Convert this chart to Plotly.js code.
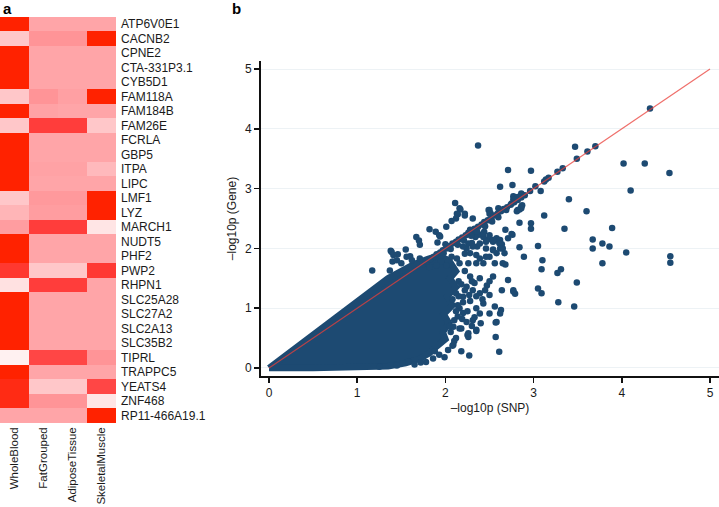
<!DOCTYPE html>
<html lang="en">
<head>
    <meta charset="UTF-8">
    <script src="https://cdn.plot.ly/plotly-3.0.1.min.js"></script>
    <style>
        html, body, #plot {
            height: 100%;
            width: 100%;
            margin: 0;
            padding: 0;
            overflow: hidden;
            background: #ffffff;
        }
    </style>
</head>
<body>
<div id="plot"></div>
<script>
    // ---- panel a: heatmap ----
    const tissues = ['WholeBlood', 'FatGrouped', 'AdiposeTissue', 'SkeletalMuscle'];
    const genes = ['ATP6V0E1', 'CACNB2', 'CPNE2', 'CTA-331P3.1', 'CYB5D1', 'FAM118A', 'FAM184B',
        'FAM26E', 'FCRLA', 'GBP5', 'ITPA', 'LIPC', 'LMF1', 'LYZ', 'MARCH1', 'NUDT5', 'PHF2', 'PWP2',
        'RHPN1', 'SLC25A28', 'SLC27A2', 'SLC2A13', 'SLC35B2', 'TIPRL', 'TRAPPC5', 'YEATS4', 'ZNF468',
        'RP11-466A19.1'];
    // one row per gene, columns in tissue order
    const heat = [
        [1.00, 0.45, 0.45, 0.45],
        [0.30, 0.55, 0.55, 1.00],
        [1.00, 0.45, 0.45, 0.45],
        [1.00, 0.45, 0.45, 0.45],
        [1.00, 0.45, 0.45, 0.45],
        [0.30, 0.55, 0.48, 1.00],
        [1.00, 0.47, 0.45, 0.45],
        [0.30, 0.85, 0.85, 0.30],
        [1.00, 0.45, 0.45, 0.45],
        [1.00, 0.45, 0.45, 0.45],
        [1.00, 0.47, 0.47, 0.36],
        [1.00, 0.45, 0.45, 0.45],
        [0.30, 0.52, 0.52, 1.00],
        [0.38, 0.50, 0.50, 1.00],
        [0.50, 0.85, 0.85, 0.12],
        [1.00, 0.45, 0.45, 0.45],
        [1.00, 0.45, 0.45, 0.45],
        [0.88, 0.30, 0.30, 0.87],
        [0.15, 0.85, 0.85, 0.45],
        [1.00, 0.45, 0.45, 0.45],
        [1.00, 0.45, 0.45, 0.45],
        [1.00, 0.45, 0.45, 0.45],
        [1.00, 0.45, 0.45, 0.45],
        [0.03, 0.82, 0.82, 0.55],
        [1.00, 0.45, 0.45, 0.45],
        [0.95, 0.30, 0.30, 0.82],
        [0.95, 0.55, 0.55, 0.12],
        [0.45, 0.45, 0.45, 1.00]
    ];

    // ---- panel b: -log10p SNP vs gene ----
    // solid bulk of the cloud (outline of the overlapping points)
    const cloudSnp = [0, 0.4, 0.8, 1.0, 1.2, 1.35, 1.5, 1.65, 1.8, 1.92, 2.04, 2.12, 2.05, 2.12, 2.02,
        2.08, 1.98, 2.04, 1.97, 2.0, 1.9, 1.82, 1.7, 1.55, 1.35, 1.0, 0.5, 0];
    const cloudGene = [0, 0.45, 0.89, 1.1, 1.33, 1.5, 1.62, 1.74, 1.82, 1.88, 1.8, 1.62, 1.5, 1.35, 1.2,
        1.05, 0.9, 0.75, 0.6, 0.48, 0.36, 0.25, 0.15, 0.08, 0.03, 0.01, 0, 0];

    // single points outside the bulk
    const snp = [
        4.32, 2.37, 3.47, 3.70, 3.61, 3.49, 4.02, 4.26, 4.54, 3.33, 3.27, 3.17, 3.14, 3.12, 3.02,
        2.96, 3.08, 2.97, 2.71, 2.76, 2.62, 3.40, 4.10, 3.60, 3.12, 3.35, 3.89, 2.97, 2.97, 2.84,
        3.05, 2.89, 3.10, 3.09, 3.67, 3.67, 3.78, 3.86, 4.05, 4.55, 4.55, 3.78, 3.31, 3.27, 3.49,
        3.05, 3.09, 3.28, 3.46, 2.84, 2.68, 2.76, 2.71, 2.62, 2.64, 2.65, 2.68, 2.71, 2.77, 2.79,
        2.63, 2.62, 2.57, 2.57, 2.61, 2.27, 2.08, 1.99, 2.35, 2.25, 2.26, 2.18, 1.17, 1.40, 1.38,
        2.86, 2.84, 2.81, 2.69, 2.77, 2.77, 2.86, 2.82, 2.78, 2.75, 2.86, 2.82, 2.60, 2.50, 2.50, 2.87,
        2.16, 2.14, 2.11, 2.17, 2.13, 2.22, 2.31, 2.07, 2.12, 2.22, 2.01, 1.82, 1.89, 1.93, 1.94,
        1.67, 1.70, 1.71, 1.91, 2.00, 2.03, 1.39, 1.46, 1.55, 1.60, 2.49, 2.51, 2.51, 2.75, 2.44,
        2.38, 2.34, 2.30, 2.43, 2.48, 2.54, 2.58, 2.61, 2.65, 2.54, 2.46, 2.36, 2.30, 2.24, 2.22,
        2.35, 2.50, 2.58, 2.28, 2.35, 2.43, 2.50, 2.58, 2.54, 2.62, 2.46, 2.39, 2.31, 2.26, 2.20,
        2.28, 2.39, 2.46, 2.54, 2.62, 2.67, 2.56, 2.43, 2.35, 2.26, 2.16, 2.13, 2.07, 2.01, 1.95,
        1.90, 1.82, 1.75, 1.71, 1.62, 1.56, 1.50, 1.45, 1.41, 1.37,
        2.28, 2.39, 2.54, 2.77, 2.64, 2.50, 2.39, 2.31, 2.24, 2.20, 2.12, 2.43, 2.56, 2.50, 2.39,
        2.31, 2.24, 2.16, 2.09, 2.58, 2.35, 2.26, 2.09, 1.86, 2.14, 2.16, 2.15, 2.22, 2.33, 2.47,
        2.28, 2.35, 2.20, 2.30, 2.12, 2.18,
        1.74, 1.79, 1.83, 1.87, 1.90, 1.94, 1.97, 2.01, 2.05, 2.08, 2.12, 2.15, 2.19, 2.23, 2.26,
        2.30, 2.33, 2.37, 2.41, 2.44, 2.48, 2.52, 2.55, 2.59, 2.63, 2.66, 2.70, 2.74, 2.78, 2.82,
        2.86, 2.90, 1.98, 2.06, 2.14, 2.21, 2.29, 2.36, 2.45, 2.53, 2.60,
        2.15, 2.12, 2.10, 2.06, 2.03, 1.93, 1.78, 1.65, 2.20, 2.25, 2.30, 2.35, 2.40, 2.45, 2.50,
        2.18, 2.22, 2.08, 2.14, 2.05, 1.88, 2.10, 2.19, 2.27, 2.33, 2.42, 1.72, 1.58, 1.45, 1.25
    ];
    const gene = [
        4.34, 3.72, 3.70, 3.71, 3.62, 3.50, 3.42, 3.42, 3.26, 3.34, 3.28, 3.18, 3.15, 3.12, 3.04,
        2.96, 2.96, 3.30, 3.31, 3.06, 3.03, 2.82, 2.97, 2.62, 2.55, 2.33, 2.34, 2.42, 2.33, 2.43,
        2.04, 1.86, 1.80, 1.65, 2.15, 2.00, 2.08, 2.03, 1.93, 1.87, 1.76, 1.75, 1.65, 1.59, 1.43,
        1.33, 1.25, 1.10, 1.03, 2.02, 2.31, 2.23, 2.17, 2.14, 2.07, 1.75, 1.73, 1.47, 1.30, 1.24,
        0.97, 0.91, 0.76, 0.52, 0.27, 0.21, 0.37, 0.18, 0.62, 0.55, 0.52, 0.66, 1.63, 1.78, 1.96,
        2.70, 2.65, 2.62, 2.64, 2.87, 2.82, 2.92, 2.86, 2.81, 2.75, 2.67, 2.64, 2.67, 2.64, 2.58, 2.72,
        2.67, 2.57, 2.76, 2.65, 2.58, 2.58, 2.50, 2.46, 2.50, 2.55, 2.36, 2.32, 2.28, 2.22, 2.20,
        2.19, 2.13, 2.06, 2.10, 2.07, 2.01, 1.94, 1.90, 1.98, 1.87, 2.64, 2.59, 2.47, 2.24, 2.28,
        2.23, 2.19, 2.25, 2.19, 2.15, 2.11, 2.15, 2.09, 2.00, 1.98, 2.00, 2.03, 2.09, 2.00, 1.91,
        1.89, 1.86, 1.92, 2.31, 2.28, 2.25, 2.22, 2.17, 2.14, 2.08, 2.11, 2.08, 2.03, 2.08, 2.03,
        1.92, 1.83, 1.86, 1.97, 2.00, 1.92, 1.75, 1.75, 1.75, 1.75, 1.75, 1.83, 1.86, 1.72, 1.78,
        1.72, 1.69, 1.75, 1.83, 1.80, 1.86, 1.75, 1.80, 1.89, 1.63,
        1.53, 1.50, 1.53, 1.28, 1.30, 1.22, 1.25, 1.30, 1.36, 1.19, 1.25, 1.08, 1.03, 0.91, 0.91,
        0.80, 0.77, 0.66, 0.69, 0.77, 0.64, 0.58, 0.39, 0.16, 0.86, 1.00, 1.45, 1.62, 1.42, 1.38,
        1.12, 1.00, 0.92, 0.70, 0.50, 0.28,
        1.73, 1.78, 1.82, 1.86, 1.90, 1.93, 1.97, 2.00, 2.04, 2.08, 2.11, 2.15, 2.18, 2.22, 2.26,
        2.29, 2.33, 2.36, 2.40, 2.44, 2.47, 2.51, 2.55, 2.58, 2.62, 2.66, 2.69, 2.73, 2.77, 2.81,
        2.85, 2.89, 1.92, 1.99, 2.06, 2.13, 2.21, 2.28, 2.37, 2.45, 2.52,
        1.20, 0.95, 0.80, 0.60, 0.30, 0.22, 0.10, 0.06, 1.10, 0.95, 1.45, 1.20, 0.75, 1.30, 1.45,
        1.40, 1.30, 1.15, 1.05, 0.70, 0.28, 0.45, 0.82, 1.22, 0.85, 1.15, 0.09, 0.11, 0.04, 0.02
    ];

    // identity line
    const lineX = [0, 5];
    const lineY = [0, 5];

    function makePlot() {
        const font = 'Liberation Sans, Arial, sans-serif';
        const dotColor = '#1d4a72';

        const heatTrace = {
            type: 'heatmap',
            x: tissues,
            y: genes,
            z: heat,
            xaxis: 'x',
            yaxis: 'y',
            zmin: 0,
            zmax: 1,
            showscale: false,
            hoverinfo: 'skip',
            colorscale: [
                [0, '#fff5f5'],
                [0.15, '#ffe1e1'],
                [0.3, '#ffc7c9'],
                [0.45, '#ffa5a8'],
                [0.55, '#ff9497'],
                [0.7, '#ff6c6c'],
                [0.85, '#ff3d3b'],
                [1, '#ff2200']
            ]
        };

        const cloudTrace = {
            type: 'scatter',
            mode: 'lines',
            x: cloudSnp,
            y: cloudGene,
            xaxis: 'x2',
            yaxis: 'y2',
            fill: 'toself',
            fillcolor: dotColor,
            line: {color: dotColor, width: 6.5},
            hoverinfo: 'skip',
            showlegend: false
        };

        const pointTrace = {
            type: 'scatter',
            mode: 'markers',
            x: snp,
            y: gene,
            xaxis: 'x2',
            yaxis: 'y2',
            marker: {color: dotColor, size: 6.5, line: {width: 0}},
            showlegend: false
        };

        const diagTrace = {
            type: 'scatter',
            mode: 'lines',
            x: lineX,
            y: lineY,
            xaxis: 'x2',
            yaxis: 'y2',
            line: {color: '#ea3f3a', width: 1.2},
            opacity: 0.75,
            hoverinfo: 'skip',
            showlegend: false
        };

        const tickFont = {family: font, size: 12, color: '#1a1a1a'};

        const layout = {
            width: 719,
            height: 507,
            margin: {l: 0, r: 0, t: 0, b: 0, pad: 0},
            paper_bgcolor: '#ffffff',
            plot_bgcolor: '#ffffff',
            showlegend: false,
            font: {family: font, size: 12, color: '#1a1a1a'},
            xaxis: {
                domain: [0, 0.1613],
                anchor: 'y',
                tickangle: -90,
                ticks: '',
                ticklabelstandoff: 1,
                showgrid: false,
                zeroline: false,
                showline: false,
                tickfont: {family: font, size: 11.5, color: '#1a1a1a'},
                fixedrange: true
            },
            yaxis: {
                domain: [0.1657, 0.9665],
                anchor: 'x',
                side: 'right',
                autorange: 'reversed',
                ticks: '',
                ticklabelstandoff: 4,
                showgrid: false,
                zeroline: false,
                showline: false,
                tickfont: tickFont,
                fixedrange: true
            },
            xaxis2: {
                domain: [0.363, 1],
                anchor: 'y2',
                range: [-0.091, 5.102],
                tickvals: [0, 1, 2, 3, 4, 5],
                ticks: 'outside',
                ticklen: 5,
                tickwidth: 1.5,
                tickcolor: '#111111',
                showline: true,
                linewidth: 2,
                linecolor: '#111111',
                showgrid: false,
                zeroline: false,
                tickfont: tickFont,
                title: {text: '–log10p (SNP)', font: {family: font, size: 12, color: '#1a1a1a'}, standoff: 4}
            },
            yaxis2: {
                domain: [0.2584, 0.8797],
                anchor: 'x2',
                range: [-0.134, 5.134],
                tickvals: [0, 1, 2, 3, 4, 5],
                ticks: 'outside',
                ticklen: 5,
                tickwidth: 1.5,
                tickcolor: '#111111',
                showline: true,
                linewidth: 2,
                linecolor: '#111111',
                showgrid: true,
                gridcolor: '#edf2f5',
                gridwidth: 1,
                zeroline: false,
                tickfont: tickFont,
                title: {text: '–log10p (Gene)', font: {family: font, size: 12, color: '#1a1a1a'}, standoff: 6}
            },
            annotations: [
                {
                    text: '<b>a</b>', xref: 'paper', yref: 'paper', x: 0.002, y: 1.004,
                    xanchor: 'left', yanchor: 'top', showarrow: false,
                    font: {family: font, size: 15, color: '#000000'}
                },
                {
                    text: '<b>b</b>', xref: 'paper', yref: 'paper', x: 0.32, y: 1.004,
                    xanchor: 'left', yanchor: 'top', showarrow: false,
                    font: {family: font, size: 15, color: '#000000'}
                }
            ]
        };

        const config = {displayModeBar: false, staticPlot: true};

        Plotly.newPlot('plot', [heatTrace, cloudTrace, pointTrace, diagTrace], layout, config);
    }

    document.addEventListener('DOMContentLoaded', function() {
        makePlot();
    });
</script>
</body>
</html>
